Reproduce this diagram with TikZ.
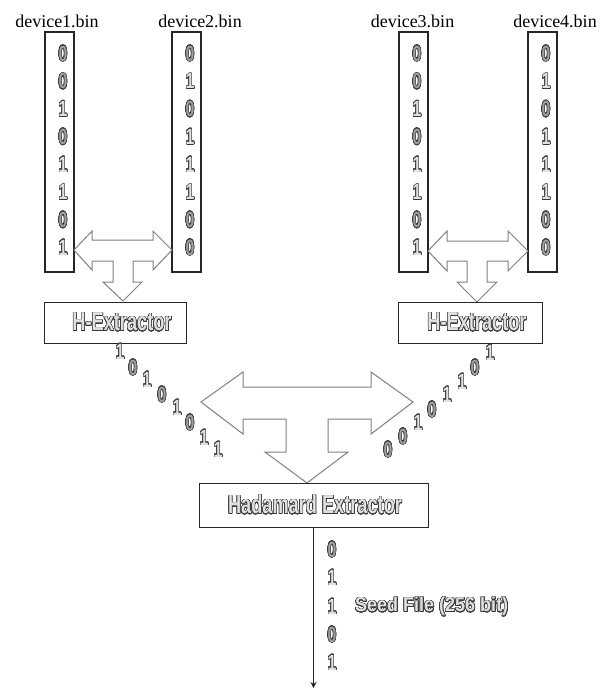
\documentclass[tikz,border=0pt]{standalone}
\usepackage{fontspec}
\setmainfont{Liberation Serif}
\setsansfont{Liberation Sans}
\usepackage{graphicx}
\usepackage{contour}
\contourlength{0.7pt}
\contournumber{24}
\usetikzlibrary{arrows.meta}
\definecolor{bitfill}{gray}{0.62}
\definecolor{onefill}{gray}{0.88}
\definecolor{bitline}{gray}{0.22}
\definecolor{txtfill}{gray}{0.88}
\newcommand{\outl}[1]{\contour{bitline}{\textcolor{bitfill}{#1}}}
\newcommand{\outlt}[1]{\contour{bitline}{\textcolor{txtfill}{#1}}}
\newcommand{\bitfont}{\sffamily\bfseries\fontsize{22}{22}\selectfont}
\newcommand{\boxfont}{\sffamily\bfseries\fontsize{26}{26}\selectfont}
\newcommand{\bitt}[1]{\scalebox{0.72}[1]{\ifnum#1=0 \outl{0}\else\outlt{1}\fi}}
\newcommand{\boxt}[1]{\scalebox{0.7}[1]{\outlt{#1}}}
\begin{document}
\begin{tikzpicture}[x=1pt,y=-1pt,
  col/.style={draw=black!85,line width=1.1pt,minimum width=29pt,minimum height=240pt,inner sep=0pt},
  lbl/.style={font=\fontsize{18}{18}\selectfont,inner sep=0pt},
  bitn/.style={inner sep=0pt,font=\bitfont},
  ext/.style={draw=black!85,line width=1pt,inner sep=0pt,font=\boxfont},
  tarr/.style={draw=gray,line width=1pt,fill=white,line join=miter},
  seedl/.style={inner sep=0pt,font=\sffamily\bfseries\fontsize{20}{20}\selectfont}]
\useasboundingbox (0,0) rectangle (600,689);

% columns
\node[col] (d1) at (59.5,152) {};
\node[col] (d2) at (186.5,152) {};
\node[col] (d3) at (413.5,152) {};
\node[col] (d4) at (542.5,152) {};
\node[lbl] (l1) at (57,21) {device1.bin};
\node[lbl] (l2) at (200,21) {device2.bin};
\node[lbl] (l3) at (412.5,21) {device3.bin};
\node[lbl] (l4) at (555,21) {device4.bin};

\foreach \v [count=\i] in {0,0,1,0,1,1,0,1}
  \node[bitn] (a\i) at (63,{54+(\i-1)*27.7}) {\bitt{\v}};
\foreach \v [count=\i] in {0,1,0,1,1,1,0,0}
  \node[bitn] (b\i) at (190,{54+(\i-1)*27.7}) {\bitt{\v}};
\foreach \v [count=\i] in {0,0,1,0,1,1,0,1}
  \node[bitn] (c\i) at (417,{54+(\i-1)*27.7}) {\bitt{\v}};
\foreach \v [count=\i] in {0,1,0,1,1,1,0,0}
  \node[bitn] (e\i) at (546,{54+(\i-1)*27.7}) {\bitt{\v}};

% small T arrows
\path[tarr] (74,250) -- (92,231) -- (92,240) -- (153,240) -- (153,231) -- (172,250) -- (153,270) -- (153,261) -- (133,261) -- (133,282) -- (142,282) -- (123,301) -- (103,282) -- (113,282) -- (113,261) -- (92,261) -- (92,270) -- cycle;
\path[tarr] (428,251) -- (447,231) -- (447,241) -- (508,241) -- (508,231) -- (528,251) -- (508,271) -- (508,261) -- (487,261) -- (487,282) -- (497,282) -- (477,302) -- (457,282) -- (467,282) -- (467,261) -- (447,261) -- (447,271) -- cycle;

% extractors
\node[ext,minimum width=142pt,minimum height=41pt] (h1) at (115,322.5) {\hspace*{14pt}\boxt{H-Extractor}};
\node[ext,minimum width=144pt,minimum height=41pt] (h2) at (470,322.5) {\hspace*{14pt}\boxt{H-Extractor}};

% diagonal bits
\foreach \v/\x/\y [count=\i] in {1/120/352,0/133/368,1/147/380,0/162/395,1/177/408,0/190/423,1/204/438,1/218/450}
  \node[bitn] (p\i) at (\x,\y) {\bitt{\v}};
\foreach \v/\x/\y [count=\i] in {1/490/353,0/475/368,1/462/382,1/447/395,0/432/410,1/418/423,0/403/437,0/388/450}
  \node[bitn] (q\i) at (\x,\y) {\bitt{\v}};

% big T arrow
\path[tarr] (201,402) -- (243,372) -- (243,387) -- (371,387) -- (371,372) -- (413,402) -- (371,434) -- (371,419) -- (328,419) -- (328,452) -- (348,452) -- (307,483) -- (265,452) -- (286,452) -- (286,419) -- (243,419) -- (243,434) -- cycle;

% hadamard
\node[ext,minimum width=229pt,minimum height=44pt] (had) at (313.5,505) {\raisebox{-4pt}{\hspace*{3pt}\boxt{Hadamard Extractor}}};

\coordinate (end) at (313.5,688);
\draw[line width=1pt,black!85,-{Stealth[length=6pt,width=6pt]}] (had.south) -- (end);

\foreach \v/\y [count=\i] in {0/550,1/578,1/607,0/635,1/663}
  \node[bitn] (s\i) at (332,\y) {\bitt{\v}};
\node[seedl,anchor=west] (seed) at (355,607) {\scalebox{0.9}[1]{\outlt{Seed File (256 bit)}}};
\end{tikzpicture}
\end{document}
